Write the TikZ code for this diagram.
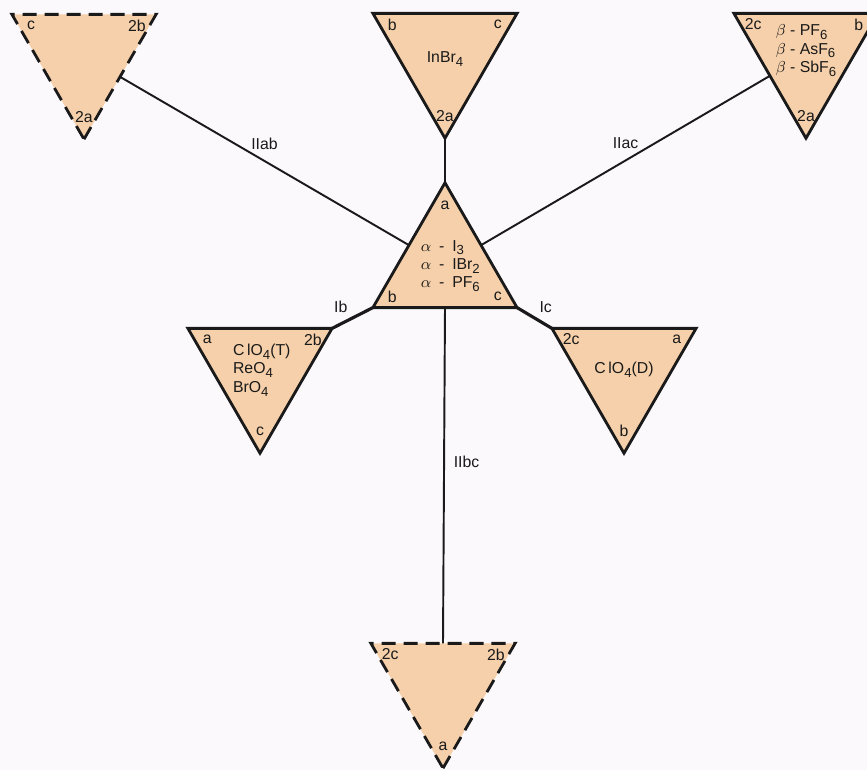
\documentclass[tikz,border=0pt]{standalone}
\usepackage{fontspec}
\setmainfont{Liberation Sans}
\usetikzlibrary{shapes.geometric, calc}
\definecolor{cpeach}{HTML}{F5D0AA}
\definecolor{cpaper}{HTML}{FCF9FC}
\definecolor{cink}{HTML}{1A1A1A}
\newcommand{\lowsub}[1]{\raisebox{-0.45ex}{\fontsize{7.5}{8}\selectfont #1}}
\tikzset{
  every picture/.style={font=\fontsize{9}{10.5}\selectfont, line width=1.1pt},
  tri/.style={regular polygon, regular polygon sides=3, minimum size=3.33cm, inner sep=0pt, outer sep=0pt, draw=cink, fill=cpeach, line width=1.6pt},
  tridown/.style={tri, shape border rotate=180},
  trigap/.style={tridown, dash pattern=on 8pt off 4.5pt},
  bond/.style={draw=cink, line width=1.1pt},
  bondthick/.style={bond, line width=1.8pt},
  salt/.style={align=left, inner sep=0pt, text=cink},
  vertex/.style={inner sep=0pt, text=cink},
  link/.style={inner sep=2pt, text=cink},
}

\begin{document}
\begin{tikzpicture}[x=0.02cm, y=0.02cm]
  \useasboundingbox (0,0) rectangle (867,-770);
  \fill[cpaper] (0,0) rectangle (867,-770);
  \clip (0,0) rectangle (867,-770);
  % the seven triangles
  \node[tri] (ctr) at (445,-266) {};
  \node[tridown] (inbr) at (445,-55) {};
  \node[trigap] (gab) at (84,-56) {};
  \node[tridown] (beta) at (806,-55) {};
  \node[tridown] (tet) at (260,-370) {};
  \node[tridown] (dim) at (624,-370) {};
  \node[trigap] (gbc) at (443,-685) {};
  % links between the triangles
  \draw[bond] (ctr.90) -- (inbr.270);
  \draw[bond] (ctr.150) -- node[link, midway, above=4pt] (lab) {IIab} (gab.-30);
  \draw[bond] (ctr.30) -- node[link, midway, above=4pt] (lac) {IIac} (beta.210);
  \draw[bond] (ctr.270) -- node[link, pos=0.46, right=3pt] (lbc) {IIbc} (gbc.90);
  \draw[bondthick] (ctr.210) -- node[link, midway, above left] (lb) {Ib} (tet.30);
  \draw[bondthick] (ctr.330) -- node[link, midway, above right] (lc) {Ic} (dim.150);
  % salts in each triangle
  \node[salt, xshift=3pt] (ctrtxt) at (ctr.center) {$\alpha$\enspace-\enspace I\lowsub{3}\\$\alpha$\enspace-\enspace IBr\lowsub{2}\\$\alpha$\enspace-\enspace PF\lowsub{6}};
  \node[salt, yshift=-2.5pt] (inbrtxt) at (inbr.center) {InBr\lowsub{4}};
  \node[salt, yshift=2.5pt] (betatxt) at (beta.center) {$\beta$ - PF\lowsub{6}\\$\beta$ - AsF\lowsub{6}\\$\beta$ - SbF\lowsub{6}};
  \node[salt, xshift=1pt] (tettxt) at (tet.center) {C\,lO\lowsub{4}(T)\\ReO\lowsub{4}\\BrO\lowsub{4}};
  \node[salt] (dimtxt) at (dim.center) {C\,lO\lowsub{4}(D)};
  % axis letters in the corners
  \foreach \t/\a/\s in {ctr/90/a, ctr/210/b, ctr/330/c,
                        inbr/150/b, inbr/30/c, inbr/270/2a,
                        gab/150/c, gab/30/2b, gab/270/2a,
                        beta/150/2c, beta/30/b, beta/270/2a,
                        tet/150/a, tet/30/2b, tet/270/c,
                        dim/150/2c, dim/30/a, dim/270/b,
                        gbc/150/2c, gbc/30/2b, gbc/270/a}
    \node[vertex] (\t-\a) at ($(\t.center)+(\a:1.22cm)$) {\s};
\end{tikzpicture}
\end{document}
